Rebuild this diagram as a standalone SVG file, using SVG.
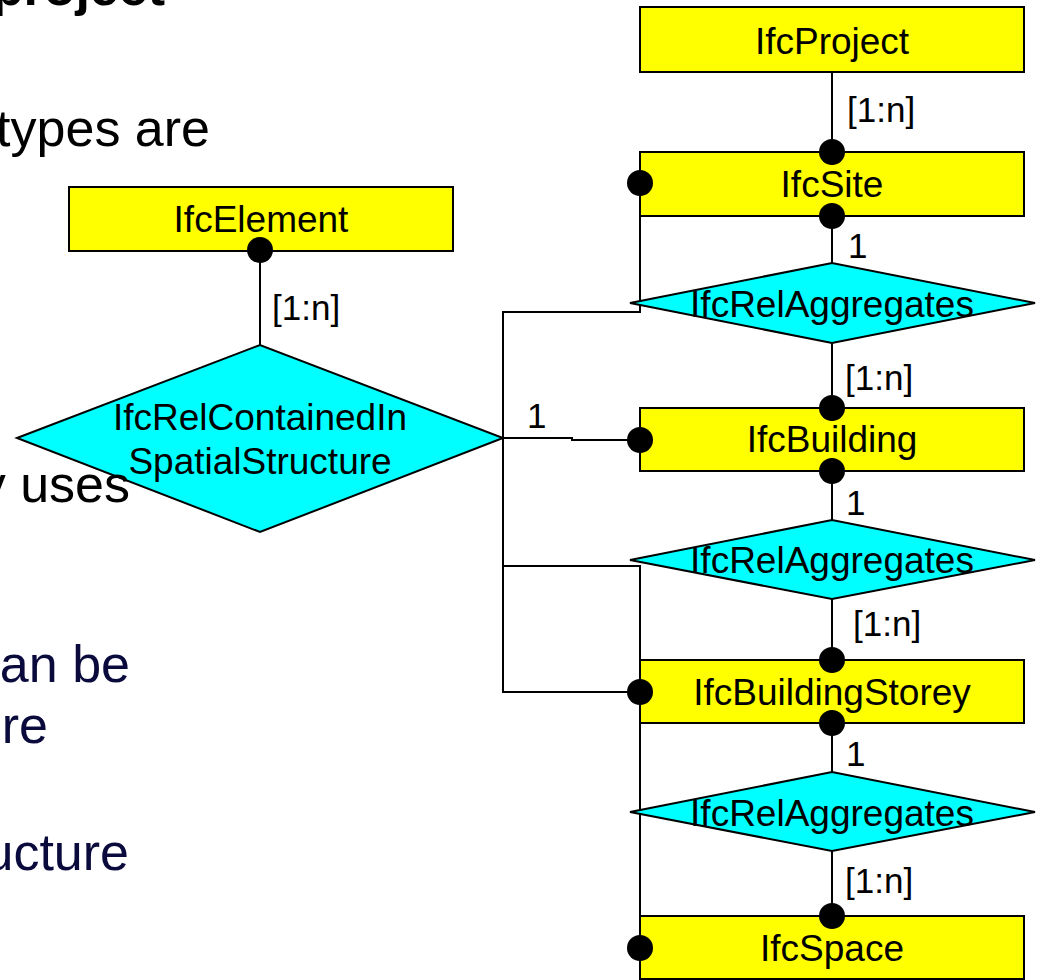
<svg xmlns="http://www.w3.org/2000/svg" width="1041" height="980" viewBox="0 0 1041 980">
<style>
.box{fill:#ffff00;stroke:#000;stroke-width:2}
.dia{fill:#00ffff;stroke:#000;stroke-width:2}
.lbl{font-family:"Liberation Sans",Arial,sans-serif;font-size:37px;fill:#000;text-anchor:middle}
.card{font-family:"Liberation Sans",Arial,sans-serif;font-size:35px;fill:#000}
.bg{font-family:"Liberation Sans",Arial,sans-serif;font-size:52px;text-anchor:end}
.ln{fill:none;stroke:#000;stroke-width:2}
.dot{fill:#000}
</style>
<rect width="1041" height="980" fill="#fff"/>
<g id="background-text">
<text class="bg" x="165" y="5" font-weight="bold" font-size="47" fill="#000">project</text>
<text class="bg" x="210" y="146" fill="#000">types are</text>
<text class="bg" x="130" y="682" fill="#0a0a3c">an be</text>
<text class="bg" x="48" y="743" fill="#0a0a3c">re</text>
<text class="bg" x="129" y="870" fill="#0a0a3c">ucture</text>
</g>
<g id="connectors">
<line class="ln" x1="832" y1="72" x2="832" y2="152"/>
<line class="ln" x1="832" y1="216" x2="832" y2="263"/>
<line class="ln" x1="832" y1="343" x2="832" y2="408"/>
<line class="ln" x1="832" y1="471" x2="832" y2="520"/>
<line class="ln" x1="832" y1="599" x2="832" y2="660"/>
<line class="ln" x1="832" y1="723" x2="832" y2="772"/>
<line class="ln" x1="832" y1="851" x2="832" y2="916"/>
<line class="ln" x1="260" y1="250" x2="260" y2="345"/>
<polyline class="ln" points="640,183 640,312 503,312 503,692 640,692"/>
<polyline class="ln" points="503,566 640,566 640,948"/>
<polyline class="ln" points="503,438 572,438 572,440 640,440"/>
</g>
<g id="IfcProject"><rect class="box" x="640" y="7" width="384" height="65"/><text class="lbl" x="832" y="54">IfcProject</text></g>
<g id="IfcSite"><rect class="box" x="640" y="152" width="384" height="64"/><text class="lbl" x="832" y="197">IfcSite</text></g>
<g id="IfcBuilding"><rect class="box" x="640" y="408" width="384" height="63"/><text class="lbl" x="832" y="452">IfcBuilding</text></g>
<g id="IfcBuildingStorey"><rect class="box" x="640" y="660" width="384" height="63"/><text class="lbl" x="832" y="705">IfcBuildingStorey</text></g>
<g id="IfcSpace"><rect class="box" x="640" y="916" width="384" height="63"/><text class="lbl" x="832" y="961">IfcSpace</text></g>
<g id="IfcElement"><rect class="box" x="69" y="187" width="384" height="64"/><text class="lbl" x="261" y="232">IfcElement</text></g>
<g id="IfcRelAggregates1"><polygon class="dia" points="630,303 832,263 1035,303 832,343"/><text class="lbl" x="832" y="317">IfcRelAggregates</text></g>
<g id="IfcRelAggregates2"><polygon class="dia" points="630,560 832,520 1035,560 832,599"/><text class="lbl" x="832" y="573">IfcRelAggregates</text></g>
<g id="IfcRelAggregates3"><polygon class="dia" points="630,812 832,772 1035,812 832,851"/><text class="lbl" x="832" y="826">IfcRelAggregates</text></g>
<g id="IfcRelContainedInSpatialStructure"><polygon class="dia" points="17,438 260,345 503,438 260,532"/><text class="lbl" x="260" y="430">IfcRelContainedIn</text><text class="lbl" x="260" y="474">SpatialStructure</text></g>
<g id="dots">
<circle class="dot" cx="832" cy="152" r="13"/>
<circle class="dot" cx="832" cy="216" r="13"/>
<circle class="dot" cx="832" cy="408" r="13"/>
<circle class="dot" cx="832" cy="471" r="13"/>
<circle class="dot" cx="832" cy="660" r="13"/>
<circle class="dot" cx="832" cy="723" r="13"/>
<circle class="dot" cx="832" cy="916" r="13"/>
<circle class="dot" cx="260" cy="250" r="13"/>
<circle class="dot" cx="640" cy="183" r="13"/>
<circle class="dot" cx="640" cy="440" r="13"/>
<circle class="dot" cx="640" cy="692" r="13"/>
<circle class="dot" cx="640" cy="948" r="13"/>
</g>
<g id="labels">
<text class="card" x="847" y="122">[1:n]</text>
<text class="card" x="848" y="258">1</text>
<text class="card" x="845" y="390">[1:n]</text>
<text class="card" x="846" y="515">1</text>
<text class="card" x="853" y="636">[1:n]</text>
<text class="card" x="846" y="766">1</text>
<text class="card" x="845" y="893">[1:n]</text>
<text class="card" x="272" y="320">[1:n]</text>
<text class="card" x="527" y="428">1</text>
</g>
<text class="bg" x="130" y="502" fill="#000">y uses</text>
</svg>
